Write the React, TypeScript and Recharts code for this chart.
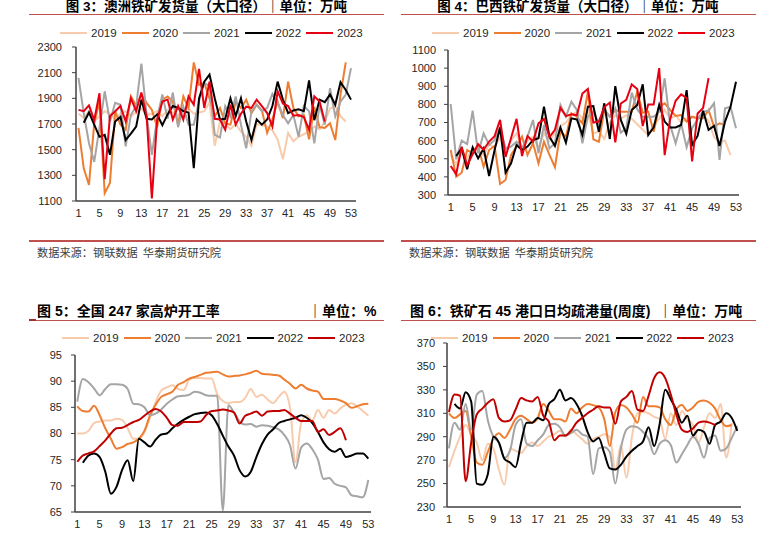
import React from "react";
import { LineChart, Line, XAxis, YAxis } from "recharts";

// weeks 1..53 on every panel
const weeks = Array.from({ length: 53 }, (_, i) => i + 1);
const weekTicks = [1, 5, 9, 13, 17, 21, 25, 29, 33, 37, 41, 45, 49, 53];
const years = ["2019", "2020", "2021", "2022", "2023"];

// 图3 澳洲铁矿发货量（大口径）
const auTicks = [1100, 1300, 1500, 1700, 1900, 2100, 2300];
const au2019 = [
  1780, 1750, 1800, 1720, 1760, 1800, 1780, 1740, 1780, 1800, 1760, 1790, 1820, 1770, 1780, 1800, 1760, 1810, 1790, 1770,
  1800, 1820, 1780, 1790, 1800, 1870, 1530, 1720, 1700, 1660, 1700, 1640, 1600, 1530, 1700, 1690, 1680, 1650, 1580, 1425,
  1630, 1565, 1600, 1620, 1640, 1680, 1660, 1720, 1820, 1840, 1760, 1720,
];
const au2020 = [
  1670, 1355, 1225, 1705, 1875, 1160, 1240, 1800, 1695, 1655, 1915, 1840, 1930, 1865, 1810, 1675, 1890, 1915, 1875, 1695,
  1915, 1825, 2180, 2005, 2020, 1900, 1760, 1825, 1705, 1695, 1875, 1825, 1890, 1785, 1850, 1805, 1630, 1735, 1875, 1745,
  2030, 1825, 1760, 1770, 1580, 1835, 1675, 1670, 1705, 1575, 1930, 2180,
];
const au2021 = [
  2060, 1785, 1550, 1405, 1670, 1955, 1720, 1865, 1850, 1525, 1770, 1840, 2170, 1770, 1460, 1745, 1930, 1740, 1945, 1675,
  1835, 1695, 1695, 1880, 2020, 1995, 1615, 1595, 1840, 1760, 1915, 1695, 1510, 1800, 1850, 1800, 1825, 1935, 1865, 1770,
  1705, 1770, 1600, 1840, 1800, 1550, 1850, 1695, 1980, 1760, 1875, 1930, 2135,
];
const au2022 = [
  null, 1710, 1790, 1695, 1600, 1615, 1460, 1720, 1755, 1575, 1625, 1680, 1890, 1740, 1735, 1775, 1690, 1775, 1840, 1825,
  1800, 1790, 1355, 1900, 2030, 2085, 1900, 1735, 1740, 1900, 1760, 1900, 1720, 1575, 1735, 1695, 1735, 1840, 2030, 1890,
  1785, 1805, 1815, 1800, 2040, 1730, 1890, 1870, 1930, 1850, 2025, 1965, 1890,
];
const au2023 = [
  1810, 1800, 1845, 1730, 1940, 1270, 1760, 1800, 1840, 1720, 1900, 1800, 1945, 1760, 1120, 1730, 1875, 1890, 1735, 1840,
  1735, 1915, 1850, 2130, 1825, 2030, 1740, 1735, 1655, 1850, 1695, 1780, 1835, 1825, 1890, 1840, 1785, 1680, 1955, 1860,
  1840, 1765, 1770, 1755, 1655, 1915, 1875, 1720,
];

// 图4 巴西铁矿发货量（大口径）
const brTicks = [300, 400, 500, 600, 700, 800, 900, 1000, 1100];
const br2019 = [
  520, 470, 540, 500, 560, 540, 520, 580, 560, 620, 540, 600, 640, 560, 600, 620, 560, 640, 600, 640,
  680, 700, 740, 760, 720, 760, 640, 650, 610, 700, 740, 720, 740, 720, 690, 660, 630, 690, 720, 770,
  720, 740, 700, 720, 730, 720, 740, 710, 620, 590, 600, 520,
];
const br2020 = [
  548, 401, 423, 548, 530, 567, 456, 548, 570, 361, 383, 521, 567, 622, 521, 585, 475, 594, 521, 453,
  649, 622, 751, 732, 695, 870, 607, 594, 769, 732, 769, 760, 760, 760, 870, 754, 760, 649, 787, 806,
  769, 736, 741, 705, 732, 723, 723, 769, 677, 695, 686,
];
const br2021 = [
  802, 497, 600, 581, 765, 530, 640, 576, 603, 673, 557, 567, 594, 557, 622, 714, 530, 686, 557, 585,
  797, 732, 815, 769, 585, 732, 760, 695, 773, 732, 778, 644, 668, 865, 773, 732, 732, 732, 760, 944,
  686, 585, 695, 563, 668, 717, 760, 765, 806, 493, 778, 787, 668,
];
const br2022 = [
  null, 515, 557, 442, 563, 502, 557, 405, 548, 673, 423, 475, 576, 548, 567, 603, 613, 787, 622, 570,
  673, 589, 723, 717, 631, 787, 791, 649, 806, 609, 901, 714, 637, 769, 797, 911, 631, 673, 797, 705,
  673, 673, 686, 879, 576, 626, 765, 659, 681, 570, 705, 787, 925,
];
const br2023 = [
  460, 415, 565, 465, 525, 580, 550, 595, 625, 715, 510, 615, 720, 515, 625, 595, 695, 720, 620, 660,
  780, 735, 745, 740, 860, 885, 700, 705, 785, 810, 590, 805, 825, 910, 885, 680, 800, 800, 1000, 520,
  720, 820, 855, 835, 485, 750, 780, 945,
];

// 图5 全国247家高炉开工率
const bfTicks = [65, 70, 75, 80, 85, 90, 95];
const bf2019 = [
  80, 80, 80.5, 82, 82.3, 82.5, 82.5, 82.8, 82.6, 81, 79, 79, 80.3, 83, 86, 88.2, 88.8, 89.2, 88.5, 88.3,
  90.3, 90.6, 90.6, 90.5, 90.5, 87.5, 86.2, 85.8, 86, 86, 86.8, 88.5, 87, 87.4, 86.5, 85.8, 87, 88, 85, 74.5,
  82, 83.5, 82.5, 84.5, 83, 84.5, 83.8, 84.8, 85.5, 85.8, 85.2, 84.3, 83.4,
];
const bf2020 = [
  85.2, 84.3, 84.2, 85.3, 83.5, 81, 79, 77.1, 77.4, 78, 78.3, 79, 80.5, 83.5, 85.5, 87, 87.5, 88, 89.3, 89.8,
  90.5, 90.8, 91.2, 91.6, 91.7, 91.8, 91.3, 90.9, 91, 91.1, 91.3, 91.6, 92, 91.4, 91.3, 91.2, 91.1, 90.3, 89.5, 88.6,
  89.3, 88.6, 88.2, 88, 86.6, 86.6, 86.6, 86.3, 85.8, 84.9, 85.2, 85.6, 85.7,
];
const bf2021 = [
  86.1, 90.4, 89.8, 88.6, 87.3, 88.5, 89.4, 89.4, 89.3, 88.5, 85.7, 85.6, 85, 83.5, 83.8, 84.6, 85.7, 86.5, 87.1, 87.2,
  87.4, 88, 87.8, 87.3, 87.2, 87.2, 65.3, 85.4, 84, 82.3, 81.7, 81.8, 81.3, 81.6, 81.5, 81.2, 80.8, 79.7, 77.8, 73.3,
  77.3, 78.1, 77, 75, 71.3, 71.5, 70.4, 70, 69.7, 68.2, 68, 67.8, 71.1,
];
const bf2022 = [
  null, 74.4, 75.8, 76.2, 75.5, 72.7, 68.5, 69.8, 73, 74.9, 70.9, 79, 78.3, 77.5, 78.8, 79.8, 80, 81, 81.9, 82.6,
  83.2, 83.7, 83.9, 84, 83.5, 81.8, 79.6, 77.5, 75.8, 73, 71.8, 72.7, 75.5, 78, 79.8, 80.8, 82, 82.4, 82.7, 83,
  83.5, 83, 82, 80.3, 78.3, 77, 76.5, 77.1, 75.5, 75.8, 76.2, 76.2, 75.2,
];
const bf2023 = [
  74.6, 75.8, 76.2, 76.6, 77.6, 78.7, 80, 81, 81.1, 81.6, 82.2, 82.6, 83.4, 84.2, 84.7, 84.2, 83, 81.6, 81.5, 82.2,
  82.2, 82.2, 82.3, 83.5, 84.3, 84.4, 84.6, 84.4, 84, 81.9, 83.4, 83.8, 84.2, 83.4, 84.2, 84.3, 84.3, 84.5, 83.8, 83,
  82.4, 82.4, 82.4, 80.3, 80.8, 79.7, 80.3, 81, 78.7,
];

// 图6 铁矿石45港口日均疏港量（周度）
const ptTicks = [230, 250, 270, 290, 310, 330, 350, 370];
const pt2019 = [
  264, 278, 290, 300, 292, 285, 270, 284, 280, 262, 249, 280, 278, 276, 282, 285, 282, 286, 290, 292,
  295, 290, 296, 292, 288, 284, 288, 290, 292, 290, 262, 283, 255, 290, 310, 311, 310, 307, 305, 288,
  310, 300, 312, 305, 300, 285, 298, 310, 306, 318, 272, 302,
];
const pt2020 = [
  310, 306, 309, 312, 290, 268, 266, 277, 288, 293, 289, 296, 305, 308, 305, 302, 306, 318, 312, 305,
  305, 303, 314, 310, 315, 318, 317, 315, 305, 282, 311, 317, 315, 309, 302, 324, 316, 316, 315, 305,
  300, 313, 317, 312, 315, 320, 321, 319, 314, 304, 299, 300,
];
const pt2021 = [
  280, 302, 296, 318, 296, 326, 329, 304, 290, 285, 272, 278, 300, 305, 284, 282, 287, 292, 300, 301,
  298, 291, 293, 296, 292, 290, 258, 280, 281, 277, 250, 280, 296, 299, 298, 294, 288, 275, 284, 287,
  283, 268, 275, 283, 290, 284, 272, 289, 291, 278, 280, 289, 299,
];
const pt2022 = [
  null, 318, 314, 328, 320, 250, 249, 258, 290, 285, 271, 268, 264, 285, 302, 302, 306, 304, 318, 322,
  330, 321, 323, 318, 308, 294, 286, 289, 276, 263, 262, 266, 273, 278, 282, 286, 298, 282, 301, 330,
  322, 313, 302, 308, 291, 296, 294, 284, 300, 303, 310, 306, 295,
];
const pt2023 = [
  311, 326, 325, 252, 285, 309, 314, 319, 322, 306, 303, 304, 313, 323, 321, 320, 324, 308, 303, 287,
  291, 291, 295, 302, 306, 310, 313, 316, 315, 315, 301, 320, 324, 329, 313, 312, 325, 340, 345, 340,
  326, 309, 296, 294, 297, 302, 303, 302, 300,
];

type Val = number | null;

const buildRows = (s: Val[][]) =>
  weeks.map((w, i) => ({
    week: w,
    y2019: s[0][i] ?? null,
    y2020: s[1][i] ?? null,
    y2021: s[2][i] ?? null,
    y2022: s[3][i] ?? null,
    y2023: s[4][i] ?? null,
  }));

const auRows = buildRows([au2019, au2020, au2021, au2022, au2023]);
const brRows = buildRows([br2019, br2020, br2021, br2022, br2023]);
const bfRows = buildRows([bf2019, bf2020, bf2021, bf2022, bf2023]);
const ptRows = buildRows([pt2019, pt2020, pt2021, pt2022, pt2023]);

const COLORS_A = ["#f8cbad", "#ed7d31", "#a5a5a5", "#000000", "#e60012"];
const COLORS_B = ["#f8cbad", "#ed7d31", "#a5a5a5", "#000000", "#c00000"];

const NUM_FONT = "'Liberation Sans', Arial, sans-serif";
const CJK_FONT = "'Liberation Sans', 'Noto Sans CJK SC', sans-serif";
const AXIS = { stroke: "#404040", strokeWidth: 1.5 };
const TICK = { fontSize: 11, fill: "#262626", fontFamily: NUM_FONT };
const RULE = "#c0504d";

type ChartProps = {
  rows: ReturnType<typeof buildRows>;
  left: number;
  top: number;
  width: number;
  height: number;
  yWidth: number;
  tickMargin: number;
  domain: [number, number];
  ticks: number[];
  padding: { left: number; right: number };
  curve: "linear" | "monotone";
  colors: string[];
};

function YearChart({ rows, left, top, width, height, yWidth, tickMargin, domain, ticks, padding, curve, colors }: ChartProps) {
  return (
    <div style={{ position: "absolute", left, top }}>
      <LineChart width={width} height={height} data={rows} margin={{ top: 7, right: 10, bottom: 5, left: 0 }}>
        <XAxis
          dataKey="week"
          type="number"
          domain={[1, 53]}
          ticks={weekTicks}
          interval={0}
          padding={padding}
          axisLine={AXIS}
          tickLine={false}
          tick={TICK}
          height={20}
        />
        <YAxis
          domain={domain}
          ticks={ticks}
          interval={0}
          width={yWidth}
          allowDataOverflow
          axisLine={AXIS}
          tickLine={{ stroke: "#404040" }}
          tickSize={4}
          tickMargin={tickMargin}
          tick={TICK}
        />
        {years.map((y, i) => (
          <Line
            key={y}
            dataKey={`y${y}`}
            type={curve}
            stroke={colors[i]}
            strokeWidth={2}
            dot={false}
            activeDot={false}
            isAnimationActive={false}
          />
        ))}
      </LineChart>
    </div>
  );
}

function YearLegend({ left, top, colors }: { left: number; top: number; colors: string[] }) {
  return (
    <div
      style={{
        position: "absolute",
        left,
        top,
        display: "flex",
        alignItems: "center",
        fontFamily: NUM_FONT,
        fontSize: 11.5,
        color: "#262626",
        lineHeight: "13px",
      }}
    >
      {years.map((y, i) => (
        <div key={y} style={{ display: "flex", alignItems: "center", width: 61.5 }}>
          <span style={{ display: "inline-block", width: 27, height: 2.5, background: colors[i], marginRight: 4 }} />
          <span>{y}</span>
        </div>
      ))}
    </div>
  );
}

const titleStyle: React.CSSProperties = {
  position: "absolute",
  fontFamily: CJK_FONT,
  fontWeight: 700,
  fontSize: 14,
  lineHeight: "14px",
  color: "#000",
  whiteSpace: "pre",
};

const sourceStyle: React.CSSProperties = {
  position: "absolute",
  fontFamily: "'Noto Sans CJK SC', sans-serif",
  fontSize: 11.2,
  lineHeight: "12px",
  color: "#404040",
  whiteSpace: "pre",
};

function Rule({ left, top, width, height = 1.5 }: { left: number; top: number; width: number; height?: number }) {
  return <div style={{ position: "absolute", left, top, width, height, background: RULE }} />;
}

export default function App() {
  return (
    <div style={{ position: "fixed", left: 0, top: 0, width: 767, height: 537, background: "#fff", overflow: "hidden" }}>
      {/* 图3 */}
      <div style={{ ...titleStyle, left: 29, width: 355, top: 0, fontSize: 13.5, lineHeight: "13px", textAlign: "center" }}>
        图 3：澳洲铁矿发货量（大口径）｜单位：万吨
      </div>
      <Rule left={29} top={13.5} width={355} />
      <YearLegend left={60} top={26.5} colors={COLORS_A} />
      <YearChart
        rows={auRows}
        left={20}
        top={40}
        width={346}
        height={186}
        yWidth={56}
        tickMargin={10}
        domain={[1100, 2300]}
        ticks={auTicks}
        padding={{ left: 2.5, right: 5 }}
        curve="linear"
        colors={COLORS_A}
      />
      <Rule left={29} top={239.5} width={355} height={2} />
      <div style={{ ...sourceStyle, left: 37, top: 246 }}>数据来源：钢联数据  华泰期货研究院</div>

      {/* 图4 */}
      <div style={{ ...titleStyle, left: 401, width: 354, top: 0, fontSize: 13.5, lineHeight: "13px", textAlign: "center" }}>
        图 4：巴西铁矿发货量（大口径）｜单位：万吨
      </div>
      <Rule left={401} top={13.5} width={355} />
      <YearLegend left={432} top={26.5} colors={COLORS_A} />
      <YearChart
        rows={brRows}
        left={400}
        top={43}
        width={349}
        height={177}
        yWidth={48}
        tickMargin={8}
        domain={[300, 1100]}
        ticks={brTicks}
        padding={{ left: 2.7, right: 3 }}
        curve="linear"
        colors={COLORS_A}
      />
      <Rule left={401} top={239.5} width={355} height={2} />
      <div style={{ ...sourceStyle, left: 409, top: 246 }}>数据来源：钢联数据  华泰期货研究院</div>

      {/* 图5 */}
      <div style={{ ...titleStyle, left: 37, top: 303.5 }}>图 5：全国 247 家高炉开工率</div>
      <div style={{ ...titleStyle, left: 308, top: 303.5 }}>｜单位：%</div>
      <Rule left={29} top={319.5} width={355} height={1.2} />
      <div style={{ position: "absolute", left: 29, top: 319, width: 7, height: 2, background: "#a0302c" }} />
      <YearLegend left={62} top={331.5} colors={COLORS_B} />
      <YearChart
        rows={bfRows}
        left={20}
        top={348}
        width={361}
        height={189}
        yWidth={55}
        tickMargin={9}
        domain={[65, 95]}
        ticks={bfTicks}
        padding={{ left: 2.3, right: 2.7 }}
        curve="monotone"
        colors={COLORS_B}
      />

      {/* 图6 */}
      <div style={{ ...titleStyle, left: 410, top: 303.5 }}>图 6：铁矿石 45 港口日均疏港量(周度)  ｜单位：万吨</div>
      <Rule left={401} top={319.5} width={355} height={1.2} />
      <YearLegend left={431} top={331.5} colors={COLORS_B} />
      <YearChart
        rows={ptRows}
        left={400}
        top={336}
        width={351}
        height={196}
        yWidth={47}
        tickMargin={8}
        domain={[230, 370]}
        ticks={ptTicks}
        padding={{ left: 2, right: 3.7 }}
        curve="monotone"
        colors={COLORS_B}
      />
    </div>
  );
}
